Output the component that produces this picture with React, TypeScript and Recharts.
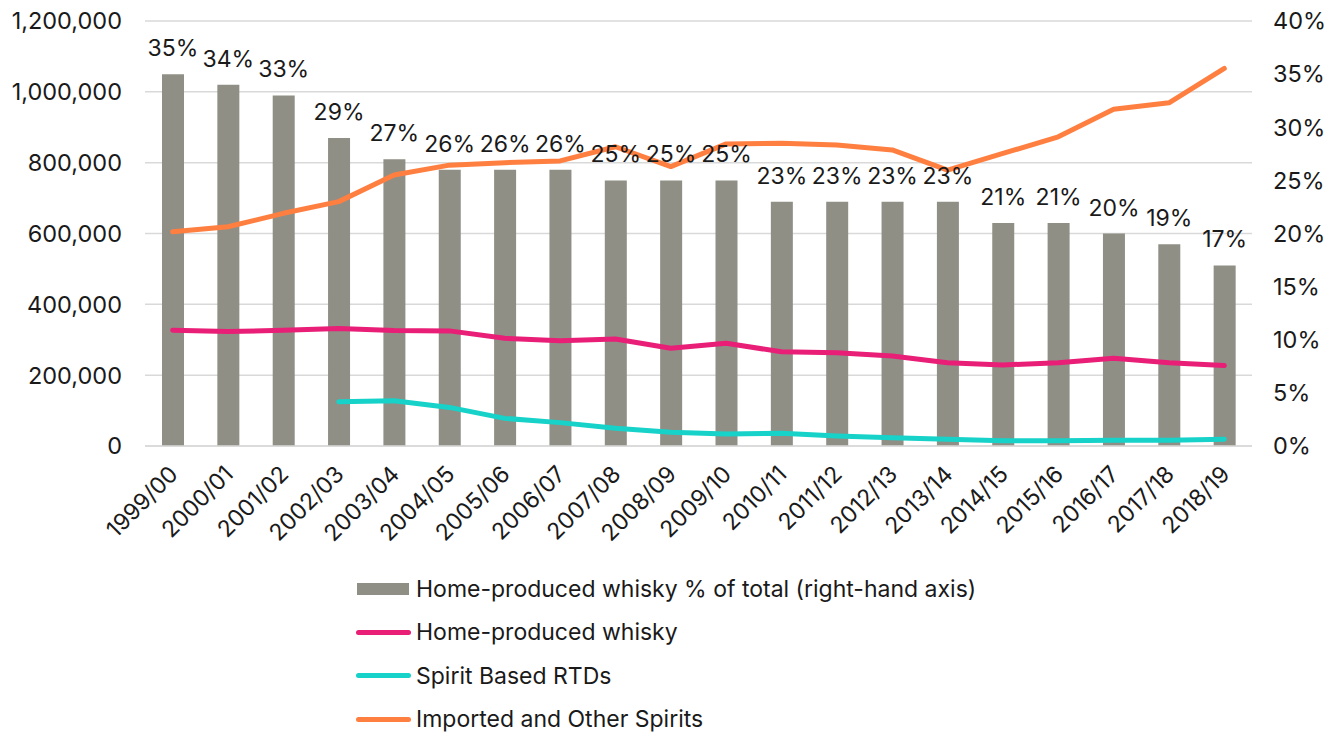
import { Bar, ComposedChart, LabelList, Line, XAxis, YAxis, CartesianGrid } from "recharts";

const years = [
  "1999/00", "2000/01", "2001/02", "2002/03", "2003/04", "2004/05", "2005/06",
  "2006/07", "2007/08", "2008/09", "2009/10", "2010/11", "2011/12", "2012/13",
  "2013/14", "2014/15", "2015/16", "2016/17", "2017/18", "2018/19",
];

// home-produced whisky share of total (%), right axis
const whiskyShare = [35, 34, 33, 29, 27, 26, 26, 26, 25, 25, 25, 23, 23, 23, 23, 21, 21, 20, 19, 17];

const homeWhisky = [
  327000, 323000, 327000, 332000, 326000, 325000, 304000, 297000, 302000, 276000,
  290000, 266000, 263000, 254000, 235000, 229000, 235000, 248000, 235000, 227000,
];

const rtds = [
  null, null, null, 125000, 128000, 109000, 78000, 66000, 50000, 39000,
  34000, 36000, 28000, 23000, 19000, 15000, 15000, 16000, 16000, 19000,
];

const imported = [
  605000, 619000, 657000, 690000, 765000, 793000, 800000, 805000, 845000, 789000,
  853000, 855000, 850000, 836000, 779000, 826000, 873000, 951000, 969000, 1066000,
];

const leftTicks = [0, 200000, 400000, 600000, 800000, 1000000, 1200000];
const rightTicks = [0, 5, 10, 15, 20, 25, 30, 35, 40];

const data = years.map((year, i) => ({
  year,
  share: whiskyShare[i],
  home: homeWhisky[i],
  rtd: rtds[i],
  imported: imported[i],
}));

const FONT = "Inter, 'Noto Sans', sans-serif";
const INK = "#1a1a1a";
const BAR = "#8f8f86";
const PINK = "#e91e76";
const CYAN = "#17d2c8";
const ORANGE = "#ff7f41";

const legendItems = [
  { label: "Home-produced whisky % of total (right-hand axis)", color: BAR, kind: "bar" },
  { label: "Home-produced whisky", color: PINK, kind: "line" },
  { label: "Spirit Based RTDs", color: CYAN, kind: "line" },
  { label: "Imported and Other Spirits", color: ORANGE, kind: "line" },
];

function YearTick(props: any) {
  const { x, y, payload } = props;
  const tx = x + 1;
  const ty = y + 16;
  return (
    <text
      x={tx}
      y={ty}
      transform={`rotate(-45, ${tx}, ${ty})`}
      textAnchor="end"
      dominantBaseline="central"
      fontSize={23}
      fontFamily={FONT}
      fill={INK}
    >
      {payload.value}
    </text>
  );
}

export default function App() {
  return (
    <div style={{ position: "relative", width: 1341, height: 736, background: "#fff" }}>
      <style>{`body{margin:0}`}</style>
      <ComposedChart
        width={1341}
        height={736}
        data={data}
        margin={{ top: 21, right: 0, left: 0, bottom: 200 }}
      >
        <CartesianGrid vertical={false} stroke="#d9d9d9" strokeWidth={1.5} yAxisId="left" />
        <XAxis
          dataKey="year"
          interval={0}
          height={90}
          tick={<YearTick />}
          tickLine={false}
          axisLine={{ stroke: "#d9d9d9", strokeWidth: 1.5 }}
        />
        <YAxis
          yAxisId="left"
          width={145}
          domain={[0, 1200000]}
          ticks={leftTicks}
          tickFormatter={(v: number) => v.toLocaleString("en-US")}
          axisLine={false}
          tickLine={false}
          tickSize={0}
          tickMargin={23}
          tick={{ fontSize: 23.5, fontFamily: FONT, fill: INK }}
        />
        <YAxis
          yAxisId="right"
          orientation="right"
          width={89}
          domain={[0, 40]}
          ticks={rightTicks}
          tickFormatter={(v: number) => `${v}%`}
          axisLine={false}
          tickLine={false}
          tickSize={0}
          tickMargin={21}
          tick={{ fontSize: 23.5, fontFamily: FONT, fill: INK }}
        />
        <Bar yAxisId="right" dataKey="share" fill={BAR} barSize={22} isAnimationActive={false}>
          <LabelList
            dataKey="share"
            position="top"
            offset={18}
            formatter={(v: any) => `${v}%`}
            style={{ fontSize: 23, fontFamily: FONT, fill: INK }}
          />
        </Bar>
        <Line yAxisId="left" dataKey="home" stroke={PINK} strokeWidth={5} dot={false} strokeLinecap="round" strokeLinejoin="round" type="linear" isAnimationActive={false} />
        <Line yAxisId="left" dataKey="rtd" stroke={CYAN} strokeWidth={5} dot={false} strokeLinecap="round" strokeLinejoin="round" type="linear" isAnimationActive={false} />
        <Line yAxisId="left" dataKey="imported" stroke={ORANGE} strokeWidth={5} dot={false} strokeLinecap="round" strokeLinejoin="round" type="linear" isAnimationActive={false} />
      </ComposedChart>
      <div style={{ position: "absolute", left: 356, top: 567, fontFamily: FONT, fontSize: 23, color: INK }}>
        {legendItems.map((item) => (
          <div key={item.label} style={{ display: "flex", alignItems: "center", height: 43.5 }}>
            {item.kind === "bar" ? (
              <span style={{ display: "inline-block", width: 52, height: 12, background: item.color, marginLeft: 1, marginRight: 7 }} />
            ) : (
              <span style={{ display: "inline-block", width: 55, height: 5, borderRadius: 3, background: item.color, marginRight: 5 }} />
            )}
            <span>{item.label}</span>
          </div>
        ))}
      </div>
    </div>
  );
}
